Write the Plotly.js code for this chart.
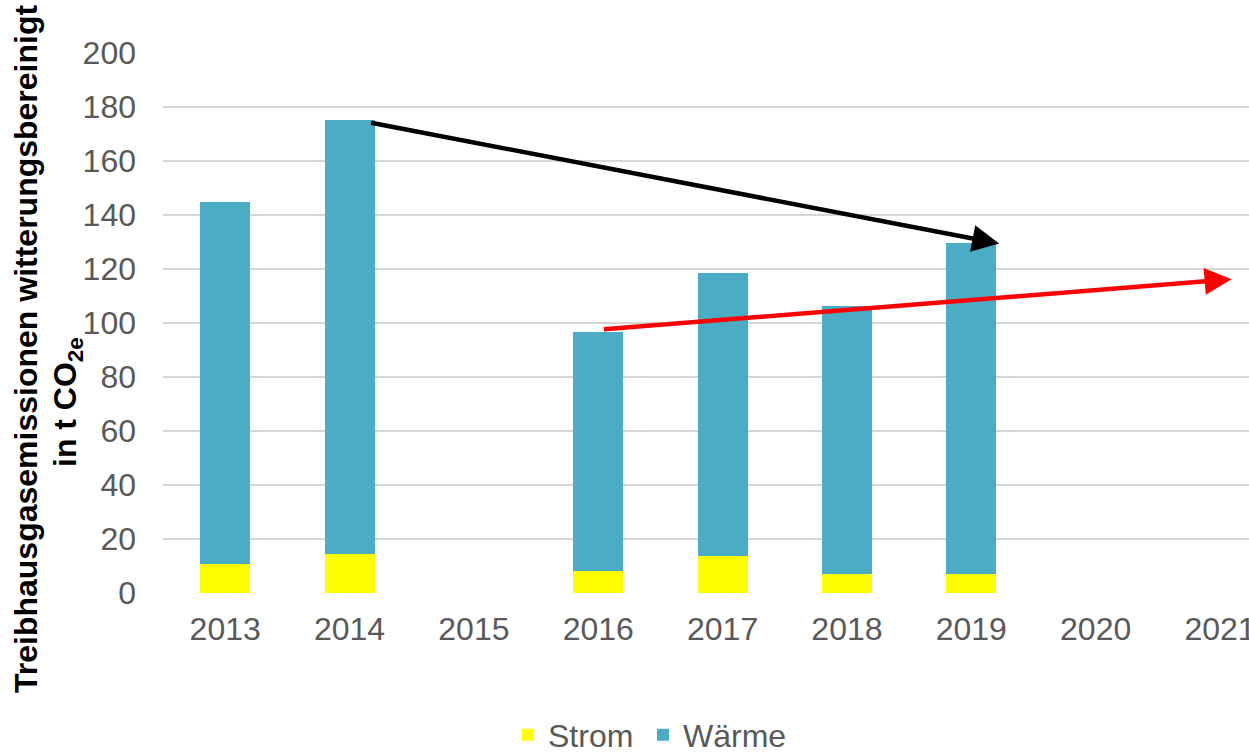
<!DOCTYPE html>
<html>
<head>
<meta charset="utf-8">
<script src="https://cdn.plot.ly/plotly-3.0.1.min.js"></script>
<style>html,body{margin:0;padding:0;background:#fff;}#chart{width:1249px;height:752px;}</style>
</head>
<body>
<div id="chart"></div>
<script>
// Data
const years = ["2013", "2014", "2015", "2016", "2017", "2018", "2019", "2020", "2021"];
const strom = [10.9, 14.3, null, 8.1, 13.8, 7.2, 7.2, null, null];
const waerme = [133.9, 161.0, null, 88.7, 104.9, 99.0, 122.4, null, null];
const yTicks = [0, 20, 40, 60, 80, 100, 120, 140, 160, 180, 200];
const yTitle1 = "Treibhausgasemissionen witterungsbereinigt";
const yTitle2 = "in t CO<sub>2e</sub>";
// Trend arrows: [start index, start value, end index, end value]
const blackArrow = [1.161, 174.3, 6.224, 129.4];
const redArrow = [3.033, 97.6, 8.093, 116.2];

const font = "Liberation Sans, Arial, sans-serif";
const grey = "#595959";
const fs = 32;
const W = 1249, H = 752, M = {l: 163, r: 0, t: 53, b: 159};
const pw = W - M.l - M.r, ph = H - M.t - M.b;
const px = v => (v - M.l) / pw;          // pixel -> paper x
const py = v => (H - M.b - v) / ph;      // pixel -> paper y

const traces = [
  {type: "bar", name: "Strom", x: years, y: strom, width: 0.402, legend: "legend",
   marker: {color: "#FFFF00", line: {width: 0}}},
  {type: "bar", name: "Wärme", x: years, y: waerme, width: 0.402, legend: "legend2",
   marker: {color: "#4BACC6", line: {width: 0}}}
];

function arrow(a, color) {
  return {x: a[2], y: a[3], ax: a[0], ay: a[1], xref: "x", yref: "y", axref: "x", ayref: "y",
    showarrow: true, arrowhead: 2, arrowsize: 1.2, arrowwidth: 4.5, arrowcolor: color, text: "", standoff: 0, startstandoff: 0};
}
function vtitle(text, xPix, yPix) {
  return {text: "<b>" + text + "</b>", xref: "paper", yref: "paper", x: px(xPix), y: py(yPix),
    xanchor: "center", yanchor: "middle", textangle: -90, showarrow: false,
    font: {family: font, size: fs, color: "#000"}};
}
function leg(xPix) {
  return {orientation: "h", x: px(xPix), xanchor: "left", y: py(735), yanchor: "middle",
    font: {family: font, size: fs, color: grey}, itemwidth: 30, bgcolor: "rgba(0,0,0,0)"};
}

const layout = {
  width: W, height: H,
  margin: {l: M.l, r: M.r, t: M.t, b: M.b, autoexpand: false},
  paper_bgcolor: "#fff", plot_bgcolor: "#fff",
  barmode: "stack",
  showlegend: true,
  font: {family: font, color: grey, size: fs},
  xaxis: {type: "category", categoryorder: "array", categoryarray: years,
    range: [-0.5, 8.233], showgrid: false, zeroline: false, showline: false, automargin: false,
    ticks: "", ticklabelstandoff: 14, tickfont: {family: font, size: fs, color: grey}, fixedrange: true},
  yaxis: {range: [0, 200], tickvals: yTicks, showgrid: true, gridcolor: "#d6d6d6", gridwidth: 1.5,
    zeroline: false, showline: false, ticks: "", ticklabelstandoff: 26,
    tickfont: {family: font, size: fs, color: grey}, automargin: false},
  legend: leg(508),
  legend2: leg(643),
  annotations: [
    vtitle(yTitle1, 26, 349),
    vtitle(yTitle2, 67, 402),
    arrow(blackArrow, "#000000"), arrow(redArrow, "#FF0000")]
};

Plotly.newPlot("chart", traces, layout, {displayModeBar: false, staticPlot: true});
</script>
</body>
</html>
